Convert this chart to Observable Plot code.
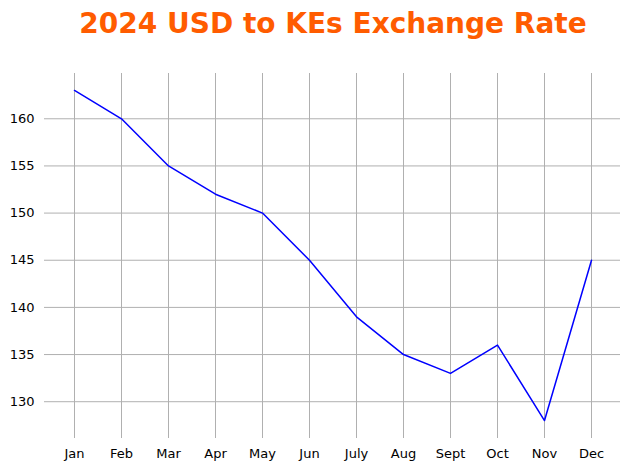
<!DOCTYPE html>
<html>
<head>
<meta charset="utf-8">
<script src="https://cdn.jsdelivr.net/npm/d3@7"></script>
<script src="https://cdn.jsdelivr.net/npm/@observablehq/plot@0.6"></script>
<style>
  body { margin: 0; background: #fff; font-family: "DejaVu Sans", sans-serif; }
  #title { height: 50px; line-height: 48px; text-align: center; padding-left: 36px;
           color: #ff5c00; font-weight: bold; font-size: 28px; }
</style>
</head>
<body>
<div id="title">2024 USD to KEs Exchange Rate</div>
<div id="chart"></div>
<script>
const months = ["Jan", "Feb", "Mar", "Apr", "May", "Jun", "July", "Aug", "Sept", "Oct", "Nov", "Dec"];
const rates = [163, 160, 155, 152, 150, 145, 139, 135, 133, 136, 128, 145];

const data = months.map((m, i) => ({month: m, rate: rates[i]}));

const chart = Plot.plot({
  width: 630,
  height: 420,
  marginTop: 23,
  marginBottom: 32,
  marginLeft: 44,
  marginRight: 10,
  style: {fontFamily: "DejaVu Sans", fontSize: "13px", color: "#000"},
  x: {type: "point", domain: months, padding: 0.57, label: null, tickSize: 0, tickPadding: 10},
  y: {domain: [126.1, 164.8], ticks: [130, 135, 140, 145, 150, 155, 160], label: null, tickSize: 0, tickPadding: 10},
  marks: [
    Plot.gridX(months, {stroke: "#b0b0b0", strokeOpacity: 1}),
    Plot.gridY([130, 135, 140, 145, 150, 155, 160], {stroke: "#b0b0b0", strokeOpacity: 1}),
    Plot.line(data, {x: "month", y: "rate", stroke: "blue", strokeWidth: 1.5})
  ]
});
d3.select("#chart").append(() => chart);
</script>
</body>
</html>
